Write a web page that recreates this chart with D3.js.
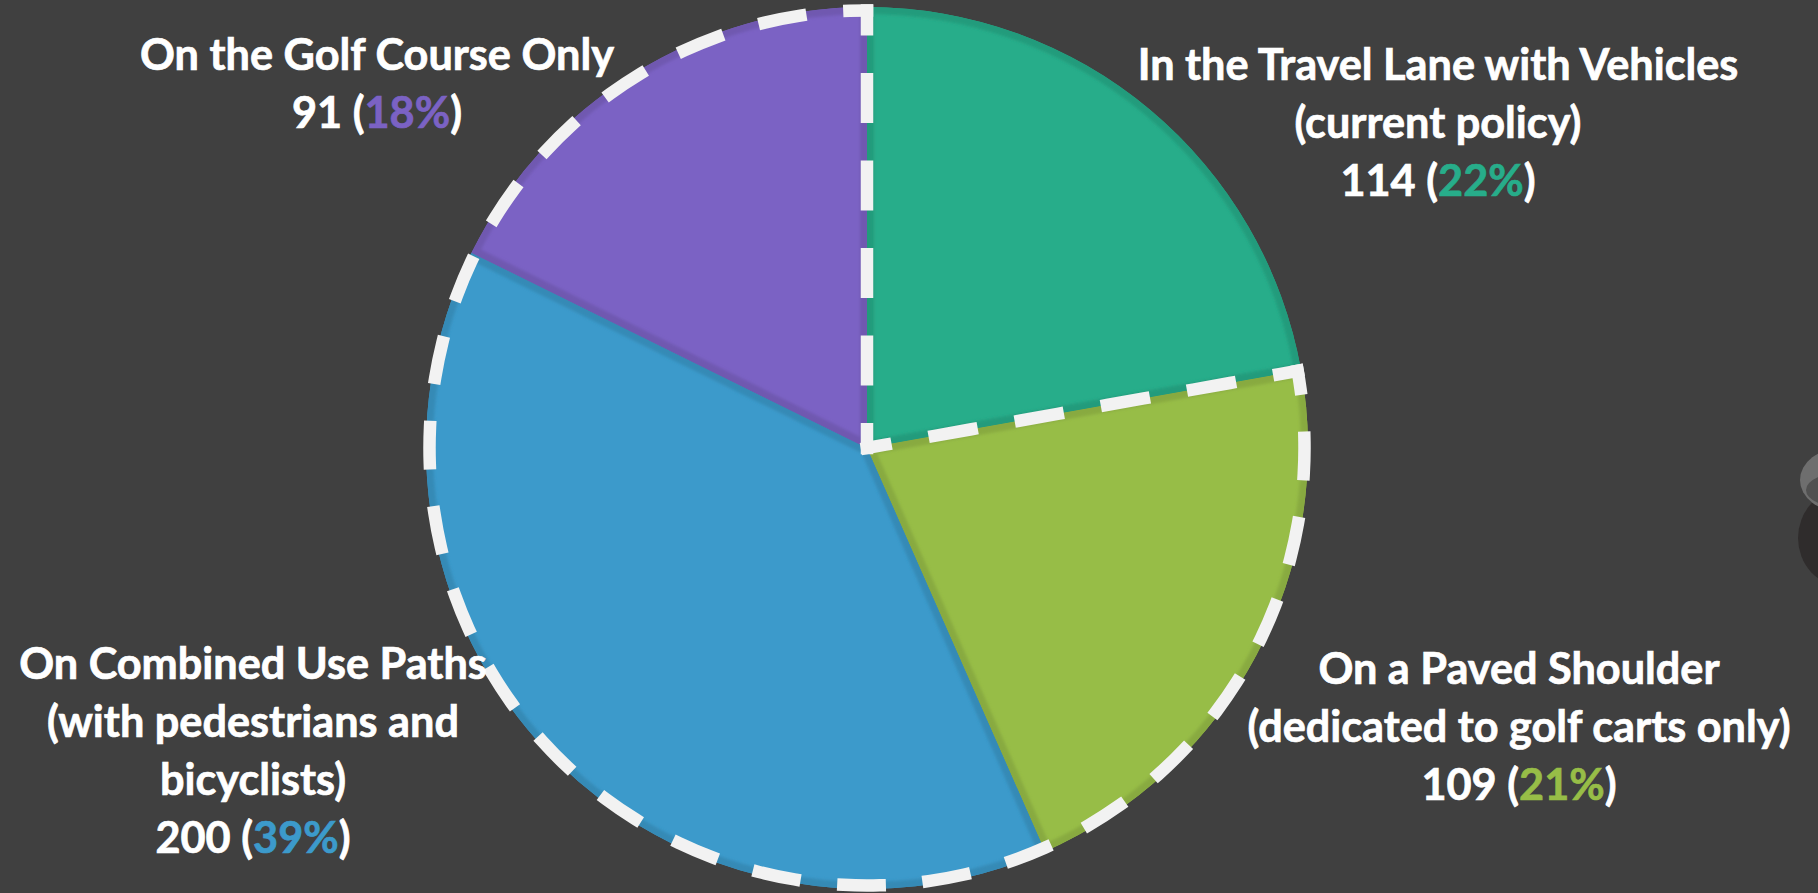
<!DOCTYPE html>
<html>
<head>
<meta charset="utf-8">
<script src="https://cdn.jsdelivr.net/npm/d3@7"></script>
<style>
  html, body { margin: 0; padding: 0; background: #404040; overflow: hidden; }
  svg { display: block; }
</style>
</head>
<body>
<svg id="chart" width="1818" height="893"></svg>
<script>
// ---- data ----
const categories = [
  "In the Travel Lane with Vehicles|(current policy)",
  "On a Paved Shoulder|(dedicated to golf carts only)",
  "On Combined Use Paths|(with pedestrians and|bicyclists)",
  "On the Golf Course Only"
];
const values = [114, 109, 200, 91];
const colors = ["#27AD8A", "#97BD47", "#3C9ACB", "#7B62C4"];
const highlighted = [false, true, true, true]; // slices inside the dashed outline

// ---- layout ----
const W = 1818, H = 893;
const cx = 867, cy = 448, R = 441;
const labelAnchors = [
  { x: 1438, y: 80 },
  { x: 1519, y: 684 },
  { x: 253,  y: 679 },
  { x: 377,  y: 70 }
];
const lineGap = 58;

const svg = d3.select("#chart");
svg.append("rect").attr("width", W).attr("height", H).attr("fill", "#404040");

const defs = svg.append("defs");
defs.append("filter").attr("id", "soft")
  .attr("x", "-5%").attr("y", "-5%").attr("width", "110%").attr("height", "110%")
  .append("feGaussianBlur").attr("stdDeviation", 1.6);

// decorative photo fragment at right edge
const frag = svg.append("g");
frag.append("ellipse").attr("cx", 1842).attr("cy", 538).attr("rx", 44).attr("ry", 48).attr("fill", "#2f2c2c");
frag.append("ellipse").attr("cx", 1842).attr("cy", 480).attr("rx", 42).attr("ry", 32).attr("fill", "#6e6e6e");
frag.append("ellipse").attr("cx", 1846).attr("cy", 490).attr("rx", 40).attr("ry", 18).attr("fill", "#505050");

const pie = d3.pie().sort(null).value(d => d)(values);
const arc = d3.arc().innerRadius(0).outerRadius(R);

const g = svg.append("g").attr("transform", `translate(${cx},${cy})`);

pie.forEach((d, i) => {
  const pathD = arc(d);
  defs.append("clipPath").attr("id", "clip" + i).append("path").attr("d", pathD);
  g.append("path").attr("d", pathD).attr("fill", colors[i]);
});
// inner bevel band, clipped to each slice
pie.forEach((d, i) => {
  const gg = svg.append("g").attr("clip-path", `url(#clip${i})`).attr("transform", `translate(${cx},${cy})`);
  gg.append("path").attr("d", arc(d))
    .attr("fill", "none")
    .attr("stroke", d3.color(colors[i]).darker(0.3))
    .attr("stroke-width", 14)
    .attr("filter", "url(#soft)");
});

// ---- dashed outline around the highlighted slices ----
const firstHi = highlighted.indexOf(true);
const lastHi = highlighted.lastIndexOf(true);
const a0 = pie[firstHi].startAngle, a1 = pie[lastHi].endAngle;
const Rd = R - 3.5;
const sw = 12.5;
const dg = svg.append("g").attr("transform", `translate(${cx},${cy})`);
function pt(a, r) { return [r * Math.sin(a), -r * Math.cos(a)]; }
function dashed(pathD, L) {
  const n = Math.max(1, Math.round(L / 85));
  const p = L / n;
  const dash = p * 0.57 - sw;
  dg.append("path").attr("d", pathD)
    .attr("fill", "none")
    .attr("stroke", "#F2F2F2")
    .attr("stroke-width", sw)
    .attr("stroke-linecap", "square")
    .attr("stroke-dasharray", `${dash} ${p - dash}`)
    .attr("stroke-dashoffset", dash / 2);
}
{
  const p0 = pt(a0, Rd);
  const ap = d3.path();
  ap.moveTo(p0[0], p0[1]);
  ap.arc(0, 0, Rd, a0 - Math.PI / 2, a1 - Math.PI / 2, false);
  dashed(ap.toString(), Rd * (a1 - a0));
  const p1 = pt(a1, Rd);
  const l1 = d3.path(); l1.moveTo(p1[0], p1[1]); l1.lineTo(0, 0);
  dashed(l1.toString(), Rd);
  const l2 = d3.path(); l2.moveTo(0, 0); l2.lineTo(p0[0], p0[1]);
  dashed(l2.toString(), Rd);
}

// ---- labels ----
const total = d3.sum(values);
const fmtPct = v => Math.round(v / total * 100) + "%";
const fontFamily = "Lato, 'Open Sans', sans-serif";

const probe = svg.append("text").attr("font-family", fontFamily).attr("font-weight", 700)
  .attr("font-size", 100).text("On the Golf Course Only");
const w100 = probe.node().getComputedTextLength();
probe.remove();
const fontSize = Math.min(52, 100 * 474 / w100);

const lg = svg.append("g").attr("font-family", fontFamily).attr("font-weight", 700)
  .attr("font-size", fontSize).attr("text-anchor", "middle")
  .attr("stroke-width", 0.7).attr("paint-order", "stroke");

pie.forEach((d, i) => {
  const lines = categories[i].split("|");
  const anc = labelAnchors[i];
  lines.forEach((ln, k) => {
    lg.append("text").attr("x", anc.x).attr("y", anc.y + k * lineGap)
      .attr("fill", "#FFFFFF").attr("stroke", "#FFFFFF").text(ln);
  });
  const t = lg.append("text").attr("x", anc.x).attr("y", anc.y + lines.length * lineGap)
    .attr("fill", "#FFFFFF").attr("stroke", "#FFFFFF");
  t.append("tspan").text(values[i] + " (");
  t.append("tspan").attr("fill", colors[i]).attr("stroke", colors[i]).text(fmtPct(values[i]));
  t.append("tspan").text(")");
});
</script>
</body>
</html>
